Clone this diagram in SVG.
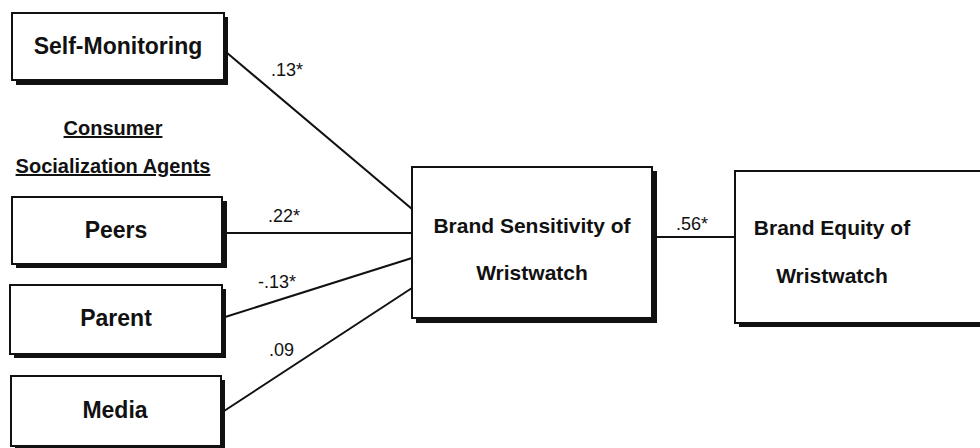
<svg xmlns="http://www.w3.org/2000/svg" width="980" height="448" viewBox="0 0 980 448">
<defs>
<style>
.box{fill:#fff;stroke:#111;stroke-width:2}
.sh{fill:#111}
.t{font-family:"Liberation Sans",Arial,sans-serif;font-weight:bold;font-size:21px;fill:#111;text-anchor:middle}
.s{font-size:23px}
.h{font-family:"Liberation Sans",Arial,sans-serif;font-weight:bold;font-size:20px;fill:#111;text-anchor:middle;text-decoration:underline}
.l{font-family:"Liberation Sans",Arial,sans-serif;font-size:18px;fill:#111}
.c{stroke:#111;stroke-width:2;fill:none}
</style>
</defs>
<rect width="980" height="448" fill="#fff"/>
<g id="connectors">
<line class="c" x1="226" y1="52" x2="412" y2="209"/>
<line class="c" x1="222" y1="233" x2="412" y2="233"/>
<line class="c" x1="222" y1="318" x2="412" y2="258"/>
<line class="c" x1="221" y1="413" x2="412" y2="288"/>
<line class="c" x1="652" y1="237" x2="735" y2="237"/>
<text class="l" x="271" y="76">.13*</text>
<text class="l" x="268" y="222">.22*</text>
<text class="l" x="258" y="288">-.13*</text>
<text class="l" x="269" y="356">.09</text>
<text class="l" x="676" y="230">.56*</text>
</g>
<g id="self-monitoring">
<rect class="sh" x="16" y="17" width="212" height="68"/>
<rect class="box" x="12" y="13" width="212" height="67"/>
<text class="t s" x="118" y="54">Self-Monitoring</text>
</g>
<g id="heading">
<text class="h" x="113" y="135">Consumer</text>
<text class="h" x="113" y="173">Socialization Agents</text>
</g>
<g id="peers">
<rect class="sh" x="16" y="201" width="211" height="67"/>
<rect class="box" x="12" y="197" width="210" height="67"/>
<text class="t s" x="116" y="238">Peers</text>
</g>
<g id="parent">
<rect class="sh" x="14" y="289" width="212" height="69"/>
<rect class="box" x="10" y="285" width="212" height="69"/>
<text class="t s" x="116" y="326">Parent</text>
</g>
<g id="media">
<rect class="sh" x="15" y="380" width="210" height="70"/>
<rect class="box" x="11" y="376" width="210" height="70"/>
<text class="t s" x="115" y="418">Media</text>
</g>
<g id="brand-sensitivity">
<rect class="sh" x="416" y="171" width="241" height="152"/>
<rect class="box" x="412" y="167" width="240" height="151"/>
<text class="t" x="532" y="233">Brand Sensitivity of</text>
<text class="t" x="532" y="280">Wristwatch</text>
</g>
<g id="brand-equity">
<rect class="sh" x="739" y="175" width="260" height="152"/>
<rect class="box" x="735" y="171" width="260" height="152"/>
<text class="t" x="832" y="235">Brand Equity of</text>
<text class="t" x="832" y="283">Wristwatch</text>
</g>
</svg>
